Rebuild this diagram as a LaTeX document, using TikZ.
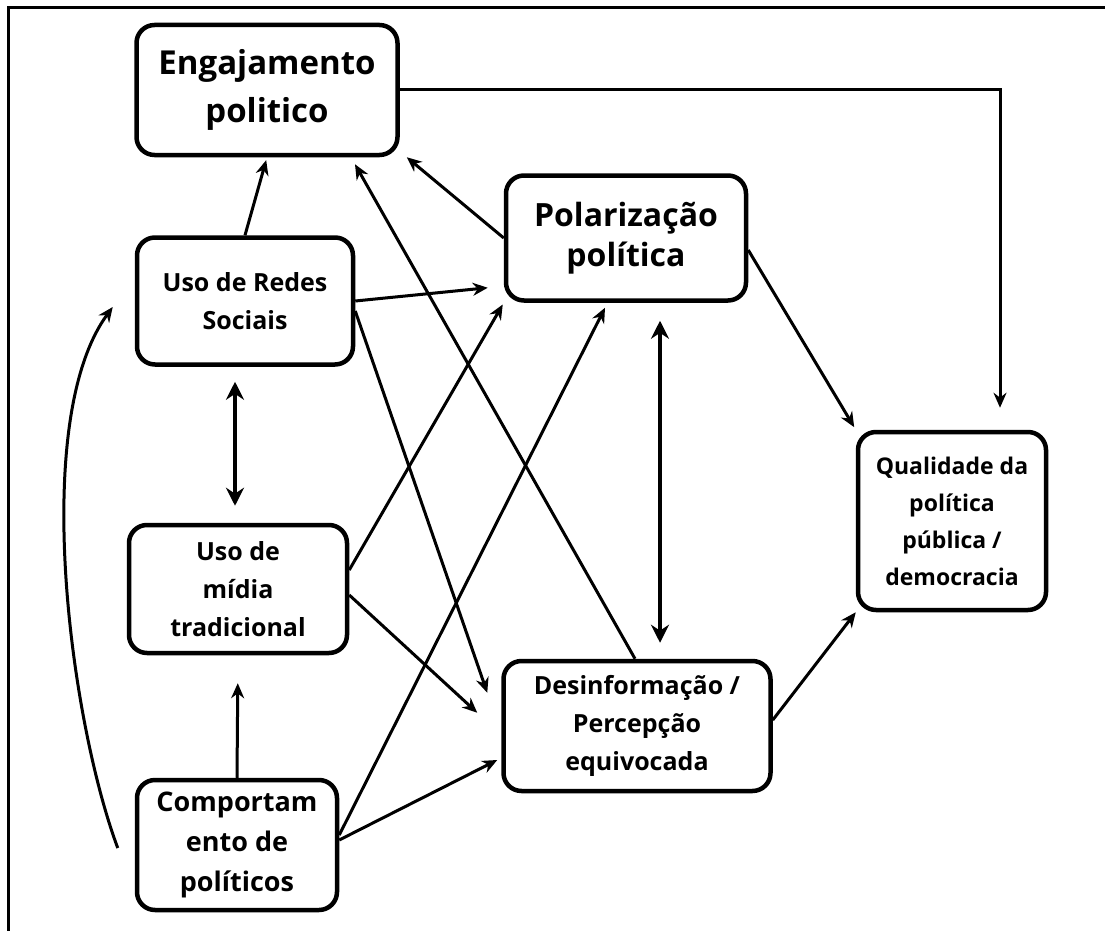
\documentclass[tikz,border=0pt]{standalone}
\usepackage{fontspec}
\setmainfont{Open Sans}
\usetikzlibrary{arrows.meta}
\begin{document}
\begin{tikzpicture}[x=1pt, y=-1pt, line width=3pt, >={Stealth[length=15pt,width=13pt]},
  main node/.style={draw, line width=4.5pt, rounded corners=18pt, align=center, inner sep=0pt, font=\bfseries\fontsize{25}{38}\selectfont},
  big node/.style={main node, font=\bfseries\fontsize{33}{48}\selectfont},
  double arrow/.style={<->, line width=4.5pt, >={Stealth[length=18pt,width=18pt]}}]

\useasboundingbox (0,0) rectangle (1105,931);
\draw[line width=3pt] (8,931) -- (8,8) -- (1105,8);

\node[big node, minimum width=261pt, minimum height=130pt] (eng) at (267,90) {Engajamento\\politico};
\node[main node, minimum width=216pt, minimum height=127pt] (redes) at (245,301) {Uso de Redes\\Sociais};
\node[main node, minimum width=218pt, minimum height=128pt] (midia) at (238,589) {Uso de\\mídia\\tradicional};
\node[main node, minimum width=200pt, minimum height=130pt, font=\bfseries\fontsize{27}{40}\selectfont] (comp) at (237,845) {Comportam\\ento de\\políticos};
\node[big node, minimum width=240pt, minimum height=125pt, font=\bfseries\fontsize{32}{40}\selectfont] (pol) at (626,238) {Polarização\\política};
\node[main node, minimum width=267pt, minimum height=130pt] (desinf) at (637,726) {Desinformação /\\Percepção\\equivocada};
\node[main node, minimum width=188pt, minimum height=178pt, font=\bfseries\fontsize{23}{37}\selectfont] (qual) at (952,521) {Qualidade da\\política\\pública /\\democracia};

\path[->]
    (redes.north) edge[shorten >=3pt] (eng.south)
    (pol.west) edge ([xshift=7pt]eng.south east)
    ([xshift=-2pt]desinf.north) edge ([xshift=88pt,yshift=-7pt]eng.south)
    ([yshift=-12pt]pol.east) edge[shorten >=3pt] (qual.north west)
    ([yshift=6pt]desinf.east) edge (qual.south west)
    (redes.east) edge ([xshift=-16pt,yshift=15pt]pol.south west)
    ([yshift=-10pt]redes.east) edge ([xshift=-14pt,yshift=-34pt]desinf.north west)
    ([yshift=19pt]midia.east) edge[shorten >=2pt] (pol.south west)
    ([yshift=-6pt]midia.east) edge ([xshift=-24pt,yshift=-54pt]desinf.north west)
    (comp.north) edge[shorten >=28pt] (midia.south)
    ([yshift=10pt]comp.east) edge ([xshift=-21pt,yshift=-5pt]pol.south)
    ([yshift=5pt]comp.east) edge ([xshift=-4pt,yshift=-34pt]desinf.west);

\draw[->] (eng.east) -| ([xshift=48pt,yshift=22pt]qual.north);

\draw[double arrow, shorten <=15pt, shorten >=17pt] ([xshift=-10pt]redes.south) -- ([xshift=-3pt]midia.north);
\draw[double arrow, shorten <=18pt, shorten >=16pt] ([xshift=34pt]pol.south) -- ([xshift=23pt]desinf.north);

\draw[->] ([xshift=-17pt,yshift=-3pt]comp.west) .. controls (70,720) and (30,420) .. ([xshift=-22pt,yshift=-6pt]redes.west);

\end{tikzpicture}
\end{document}
